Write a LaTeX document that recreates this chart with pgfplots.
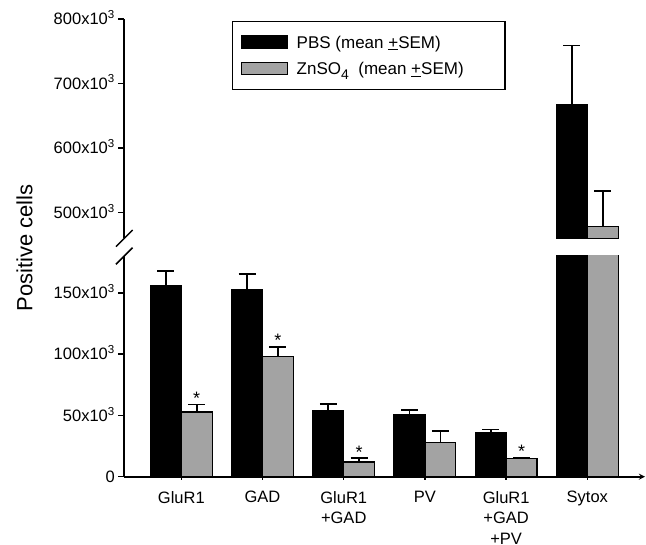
\documentclass[border=0pt]{standalone}
\usepackage{fontspec}
\setmainfont{Liberation Sans}
\usepackage{pgfplots}
\pgfplotsset{compat=1.18}
\usepackage{pgfplotstable}
\definecolor{zngray}{RGB}{163,163,163}

% x: 0 GluR1, 1 GAD, 2 GluR1+GAD, 3 PV, 4 GluR1+GAD+PV, 5 Sytox
\pgfplotstableread{
x y e
0 156000 12000
1 152300 13000
2 53600 5700
3 50600 3800
4 35900 2700
5 667000 91600
}\pbsdata
\pgfplotstableread{
x y e
0 52800 6200
1 97900 8100
2 12000 3000
3 27700 9300
4 14700 800
5 478000 55000
}\zndata

\pgfplotsset{
  brk/.style={
    scale only axis, width=520.7pt,
    xmin=-0.702, xmax=5.71,
    axis y line=left,
    axis line style={-, line width=1.7pt},
    tick style={line width=1.5pt, black},
    tick align=outside, major tick length=6pt,
    scaled y ticks=false,
    yticklabel style={font=\fontsize{16.5}{18}\selectfont, text height=11.8pt, text depth=0pt, inner sep=3.3pt},
    ytick pos=left,
  },
  pbs/.style={ybar, bar width=0.38, bar shift=0pt, fill=black, draw=black, line width=1.2pt},
  zn/.style={ybar, bar width=0.38, bar shift=0pt, fill=zngray, draw=black, line width=1.2pt},
  err/.style={draw=none, mark=none, forget plot,
    error bars/.cd, y dir=plus, y explicit, error mark=|,
    error bar style={draw=black, solid, line width=1.7pt},
    error mark options={draw=black, solid, line width=1.7pt, mark size=8.5pt}},
}

\begin{document}
\begin{tikzpicture}
% lower segment
\begin{axis}[brk, height=220.7pt,
  ymin=0, ymax=180000,
  axis x line=bottom,
  ytick={0,50000,100000,150000},
  yticklabels={0, 50x10\textsuperscript{3}, 100x10\textsuperscript{3}, 150x10\textsuperscript{3}},
  xtick={0,1,2,3,4,5},
  xticklabels={GluR1, GAD, {GluR1\\[1.5pt]+GAD}, PV, {GluR1\\[1.5pt]+GAD\\[1.5pt]+PV}, Sytox},
  xticklabel style={align=center, font=\fontsize{16.5}{19}\selectfont, inner sep=0pt, yshift=-11.5pt},
  xtick pos=bottom,
]
\addplot[pbs] table[x expr=\thisrow{x}-0.19, y=y] {\pbsdata};
\addplot[zn] table[x expr=\thisrow{x}+0.19, y=y] {\zndata};
\addplot[err] table[x expr=\thisrow{x}-0.19, y=y, y error=e] {\pbsdata};
\addplot[err] table[x expr=\thisrow{x}+0.19, y=y, y error=e] {\zndata};
\node[anchor=base, font=\fontsize{18}{20}\selectfont] at (axis cs:0.19,59000) {*};
\node[anchor=base, font=\fontsize{18}{20}\selectfont] at (axis cs:1.19,106000) {*};
\node[anchor=base, font=\fontsize{18}{20}\selectfont] at (axis cs:2.19,15000) {*};
\node[anchor=base, font=\fontsize{18}{20}\selectfont] at (axis cs:4.19,15500) {*};
\end{axis}
% upper segment
\begin{axis}[brk, height=219.5pt, at={(0pt,238.4pt)}, anchor=south west,
  ymin=460000, ymax=800000,
  axis x line=none,
  ytick={500000,600000,700000,800000},
  yticklabels={500x10\textsuperscript{3}, 600x10\textsuperscript{3}, 700x10\textsuperscript{3}, 800x10\textsuperscript{3}},
  legend cell align=left,
  legend style={at={(0.206,0.992)}, anchor=north west, draw=black, line width=1.3pt,
    inner xsep=8.3pt, inner ysep=13.8pt, row sep=13pt, column sep=9pt,
    font=\fontsize{17}{20}\selectfont,
    nodes={inner sep=0pt, text height=12.5pt, text depth=0pt}},
  legend image code/.code={\draw[#1, line width=1.2pt] (0pt,-6.25pt) rectangle (46pt,6.25pt);},
]
\addplot[restrict x to domain=4.5:5.5, pbs] table[x expr=\thisrow{x}-0.19, y=y] {\pbsdata};
\addlegendentry{\makebox[200pt][l]{PBS (mean \underline{+}SEM)}}
\addplot[restrict x to domain=4.5:5.5, zn] table[x expr=\thisrow{x}+0.19, y=y] {\zndata};
\addlegendentry{\makebox[200pt][l]{ZnSO\raisebox{-0.3em}{\fontsize{14}{14}\selectfont 4}\ \ (mean \underline{+}SEM)}}
\addplot[restrict x to domain=4.5:5.5, err] table[x expr=\thisrow{x}-0.19, y=y, y error=e] {\pbsdata};
\addplot[restrict x to domain=4.5:5.5, err] table[x expr=\thisrow{x}+0.19, y=y, y error=e] {\zndata};
\end{axis}
% axis break marks
\draw[line width=1.5pt] (-8.3pt,230.1pt) -- (8.3pt,246.7pt);
\draw[line width=1.5pt] (-8.3pt,212.4pt) -- (8.3pt,229pt);
\node[rotate=90, font=\fontsize{22}{26}\selectfont] at (-99.8pt,228.7pt) {Positive cells};
\pgfresetboundingbox
\useasboundingbox (-124.3pt,-68.3pt) rectangle (521.7pt,476.7pt);
\end{tikzpicture}
\end{document}
